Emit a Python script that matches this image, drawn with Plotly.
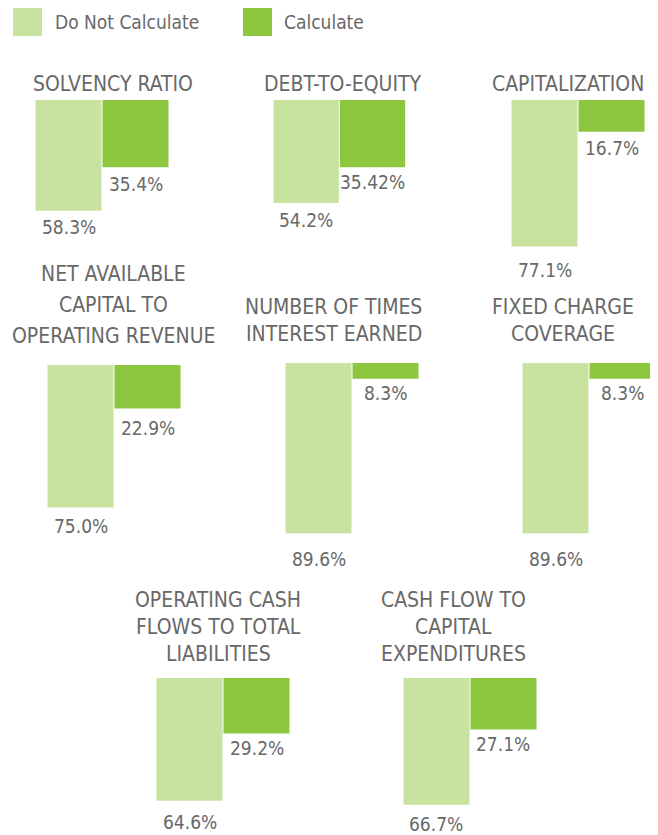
import plotly.graph_objects as go

# ---- data ----
series_names = ["Do Not Calculate", "Calculate"]
metrics = [
    "SOLVENCY RATIO",
    "DEBT-TO-EQUITY",
    "CAPITALIZATION",
    "NET AVAILABLE<br>CAPITAL TO<br>OPERATING REVENUE",
    "NUMBER OF TIMES<br>INTEREST EARNED",
    "FIXED CHARGE<br>COVERAGE",
    "OPERATING CASH<br>FLOWS TO TOTAL<br>LIABILITIES",
    "CASH FLOW TO<br>CAPITAL<br>EXPENDITURES",
]
do_not_calculate = [58.3, 54.2, 77.1, 75.0, 89.6, 89.6, 64.6, 66.7]
calculate = [35.4, 35.42, 16.7, 22.9, 8.3, 8.3, 29.2, 27.1]

# ---- styling ----
PAGE_W, PAGE_H = 658, 835
OFF = 8  # default body margin of the written html page
W, H = PAGE_W - OFF, PAGE_H - OFF
LIGHT = "#c8e3a0"
DARK = "#8dc63f"
TXT = "#686868"
FONT = "Liberation Sans Narrow, DejaVu Sans Condensed, Roboto, sans-serif"
PX_PER_UNIT = 1.9
SLOT = 67


def px(x):
    return (x - OFF) / W


def py(y):
    return 1 - (y - OFF) / H


# left px, top px, y-range, title center x, last title line center y, line spacing
layout_px = [
    (35, 100, 100, 113, 83, 27),
    (273, 100, 100, 343, 83, 27),
    (511, 100, 100, 568, 83, 27),
    (47, 365, 100, 113, 335, 31),
    (285, 363, 100, 334, 333, 27.5),
    (522, 363, 100, 563, 333, 27.5),
    (156, 678, 82, 218, 653, 27),
    (403, 678, 82, 453, 653, 27),
]
# vertical offsets (px) of the value labels below the bar ends
shift_light = [-3.5, -4, -10.5, -5.3, -13.2, -13.2, -8.0, -6.5]
shift_dark = [-4, -2.1, -3.5, -6, -1.7, -1.7, -1.3, -1.2]

fig = go.Figure()
annotations = []
lay = {}
for i, (left, top, rng, tcx, tly, tls) in enumerate(layout_px):
    n = i + 1
    xa, ya = f"x{n}", f"y{n}"
    vals = [do_not_calculate[i], calculate[i]]
    fig.add_trace(go.Bar(
        x=series_names, y=vals, xaxis=xa, yaxis=ya,
        marker=dict(color=[LIGHT, DARK], line=dict(width=0)),
        showlegend=False, hoverinfo="x+y",
    ))
    lay[f"xaxis{n}"] = dict(domain=[px(left), px(left + 2 * SLOT)], visible=False,
                            anchor=ya, fixedrange=True)
    lay[f"yaxis{n}"] = dict(domain=[max(0, py(top + rng * PX_PER_UNIT)), py(top)],
                            range=[rng, 0], visible=False, anchor=xa, fixedrange=True)
    for name, v, sh in zip(series_names, vals, [shift_light[i], shift_dark[i]]):
        annotations.append(dict(
            x=name, y=v, xref=xa, yref=ya, text=f"{v}%", showarrow=False,
            yanchor="top", yshift=sh, font=dict(size=19, color=TXT, family=FONT)))
    lines = metrics[i].split("<br>")
    for k, line in enumerate(lines):
        cy = tly - (len(lines) - 1 - k) * tls
        annotations.append(dict(
            x=px(tcx), y=py(cy + 1), xref="paper", yref="paper", text=line,
            showarrow=False, xanchor="center", yanchor="middle", align="center",
            font=dict(size=21, color=TXT, family=FONT)))

# legend keys
shapes = []
legend_px = [(13, 53), (243, 282)]
for (kx, tx), name, col in zip(legend_px, series_names, [LIGHT, DARK]):
    shapes.append(dict(type="rect", xref="paper", yref="paper",
                       x0=px(kx), x1=px(kx + 29), y0=py(36), y1=py(7),
                       fillcolor=col, line=dict(width=0)))
    annotations.append(dict(x=px(tx), y=py(22), xref="paper", yref="paper",
                            text=name, showarrow=False, xanchor="left", yanchor="middle",
                            font=dict(size=19, color=TXT, family=FONT)))

fig.update_layout(
    width=W, height=H, margin=dict(l=0, r=0, t=0, b=0),
    paper_bgcolor="white", plot_bgcolor="white",
    bargap=1 / SLOT, annotations=annotations, shapes=shapes,
    font=dict(family=FONT, color=TXT), showlegend=False,
    **lay,
)
fig.write_html("out.html")
